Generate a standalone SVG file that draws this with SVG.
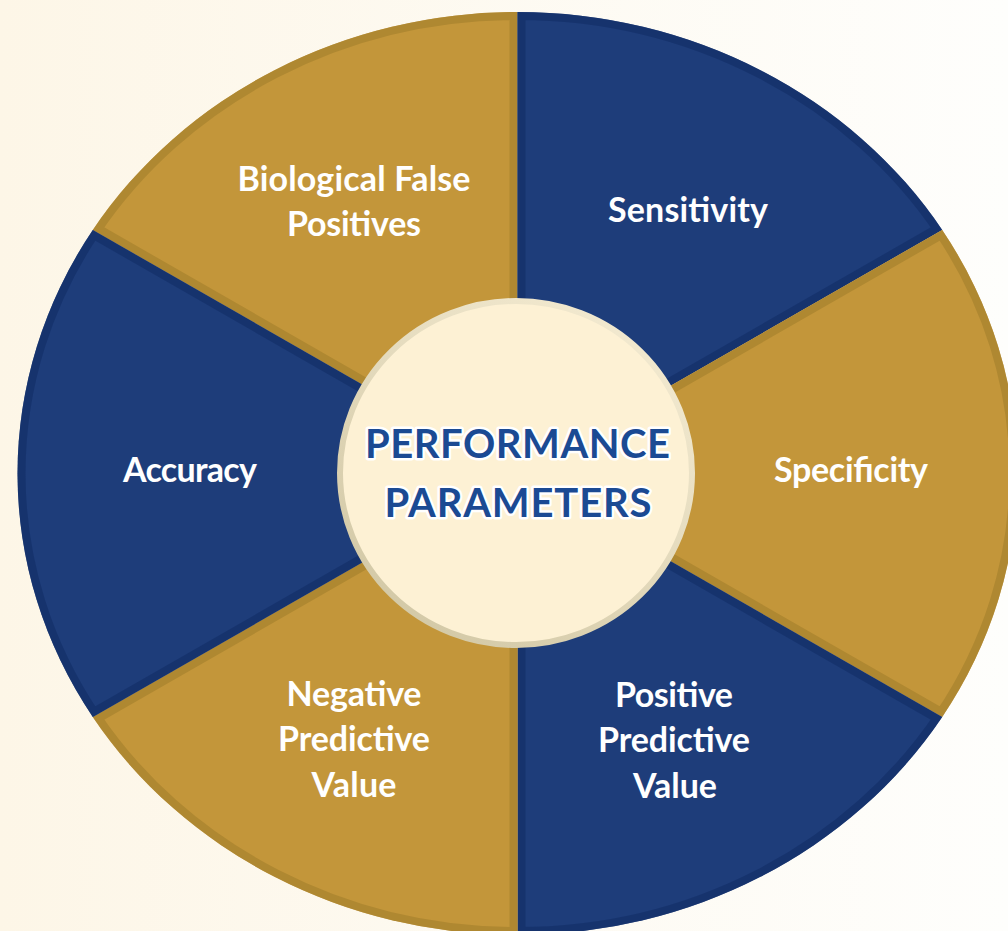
<svg xmlns="http://www.w3.org/2000/svg" width="1008" height="931" viewBox="0 0 1008 931">
  <defs>
    <linearGradient id="bg" x1="0" y1="0" x2="1" y2="0">
      <stop offset="0" stop-color="#FDF6E7"/>
      <stop offset="1" stop-color="#FEFEFC"/>
    </linearGradient>
    <linearGradient id="ring" x1="0.8" y1="0.1" x2="0.2" y2="0.9">
      <stop offset="0" stop-color="#F1E8CE"/>
      <stop offset="1" stop-color="#D4CAA8"/>
    </linearGradient>
    <!-- sector outlines, reused for fill, clip and inner bevel edge -->
    <path id="s-bfp" d="M517.5,473.5 L517.5,12 A500,461.5 0 0 0 92.8,230 Z"/>
    <path id="s-sens" d="M517.5,473.5 L517.5,12 A500,461.5 0 0 1 942.2,230 Z"/>
    <path id="s-spec" d="M517.5,473.5 L942.2,230 A500,461.5 0 0 1 942.2,717 Z"/>
    <path id="s-ppv" d="M517.5,473.5 L942.2,717 A500,461.5 0 0 1 517.5,935 Z"/>
    <path id="s-npv" d="M517.5,473.5 L517.5,935 A500,461.5 0 0 1 92.8,717 Z"/>
    <path id="s-acc" d="M517.5,473.5 L92.8,717 A500,461.5 0 0 1 92.8,230 Z"/>
    <clipPath id="c-bfp"><use href="#s-bfp"/></clipPath>
    <clipPath id="c-sens"><use href="#s-sens"/></clipPath>
    <clipPath id="c-spec"><use href="#s-spec"/></clipPath>
    <clipPath id="c-ppv"><use href="#s-ppv"/></clipPath>
    <clipPath id="c-npv"><use href="#s-npv"/></clipPath>
    <clipPath id="c-acc"><use href="#s-acc"/></clipPath>
  </defs>
  <style>
    .gold { fill: #C3963A; }
    .blue { fill: #1E3D7A; }
    .gold-edge { fill: none; stroke: #A8832F; stroke-opacity: 0.75; stroke-width: 16; stroke-linejoin: miter; }
    .blue-edge { fill: none; stroke: #14306A; stroke-opacity: 0.75; stroke-width: 16; stroke-linejoin: miter; }
    .label { font-family: Lato, "Open Sans", sans-serif; font-weight: 700; font-size: 34px; fill: #FFFFFF; text-anchor: middle; }
    .title { font-family: Lato, "Open Sans", sans-serif; font-weight: 700; font-size: 40px; fill: #1B4A93; text-anchor: middle; stroke: #FFFFFF; stroke-width: 5; stroke-linejoin: round; paint-order: stroke; }
  </style>

  <rect x="0" y="0" width="1008" height="931" fill="url(#bg)"/>

  <g id="biological-false-positives">
    <use href="#s-bfp" class="gold"/>
    <use href="#s-bfp" class="gold-edge" clip-path="url(#c-bfp)"/>
    <text class="label"><tspan x="354" y="191" textLength="233">Biological False</tspan><tspan x="354" y="236" textLength="134">Positives</tspan></text>
  </g>

  <g id="sensitivity">
    <use href="#s-sens" class="blue"/>
    <use href="#s-sens" class="blue-edge" clip-path="url(#c-sens)"/>
    <text class="label" x="688" y="222" textLength="160">Sensitivity</text>
  </g>

  <g id="specificity">
    <use href="#s-spec" class="gold"/>
    <use href="#s-spec" class="gold-edge" clip-path="url(#c-spec)"/>
    <text class="label" x="851" y="482" textLength="154">Specificity</text>
  </g>

  <g id="positive-predictive-value">
    <use href="#s-ppv" class="blue"/>
    <use href="#s-ppv" class="blue-edge" clip-path="url(#c-ppv)"/>
    <text class="label"><tspan x="674" y="707" textLength="118">Positive</tspan><tspan x="674" y="752" textLength="152">Predictive</tspan><tspan x="675" y="798" textLength="84">Value</tspan></text>
  </g>

  <g id="negative-predictive-value">
    <use href="#s-npv" class="gold"/>
    <use href="#s-npv" class="gold-edge" clip-path="url(#c-npv)"/>
    <text class="label"><tspan x="354" y="706" textLength="135">Negative</tspan><tspan x="354" y="751" textLength="152">Predictive</tspan><tspan x="354" y="797" textLength="85">Value</tspan></text>
  </g>

  <g id="accuracy">
    <use href="#s-acc" class="blue"/>
    <use href="#s-acc" class="blue-edge" clip-path="url(#c-acc)"/>
    <text class="label" x="190" y="482" textLength="134">Accuracy</text>
  </g>

  <g id="performance-parameters">
    <ellipse cx="516" cy="473" rx="176" ry="172" fill="#FDF1D4" stroke="url(#ring)" stroke-width="6"/>
    <text class="title"><tspan x="517.5" y="458" textLength="305">PERFORMANCE</tspan><tspan x="518" y="517" textLength="267">PARAMETERS</tspan></text>
  </g>
</svg>
